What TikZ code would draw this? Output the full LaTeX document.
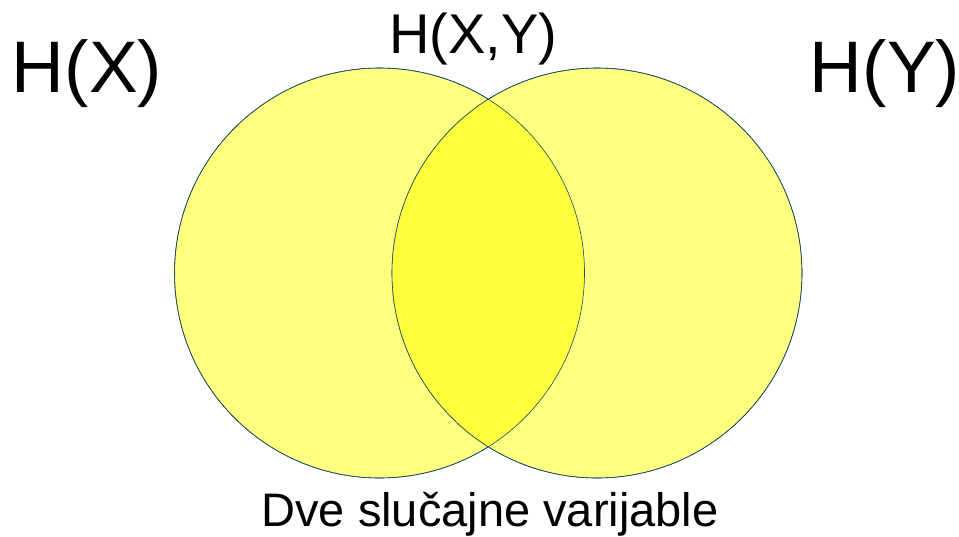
\documentclass[tikz,border=0pt]{standalone}
\usepackage{fontspec}
\setmainfont{Liberation Sans}
\usetikzlibrary{positioning}
\definecolor{rimcol}{RGB}{25,75,95}
\definecolor{paleyel}{RGB}{255,255,128}
\definecolor{deepyel}{RGB}{255,255,60}

\begin{document}
\begin{tikzpicture}[x=1pt,y=-1pt,
  set/.style={circle,draw=rimcol,line width=0.6pt,fill=paleyel,minimum size=410pt,inner sep=0pt},
  big/.style={anchor=base,inner sep=0pt,font=\fontsize{73}{80}\selectfont},
  mid/.style={anchor=base,inner sep=0pt,font=\fontsize{56}{64}\selectfont},
  captext/.style={anchor=base,inner sep=0pt,font=\fontsize{47}{54}\selectfont}]
\useasboundingbox (0,0) rectangle (959,536);
\node[set] (hx) at (379.5,273) {};
\node[set] (hy) at (597,273) {};
% overlap
\begin{scope}
  \clip (hx.center) circle (205pt);
  \fill[deepyel] (hy.center) circle (205pt);
\end{scope}
\draw[rimcol,line width=0.6pt] (hx.center) circle (205pt) (hy.center) circle (205pt);
\node[big] (lblx) at (87,92) {H(X)};
\node[big] (lbly) at (885,92) {H(Y)};
\node[mid] (lblxy) at (473,53) {H(X,Y)};
\node[captext] (caption) at (490,526) {Dve slučajne varijable};
\end{tikzpicture}
\end{document}
